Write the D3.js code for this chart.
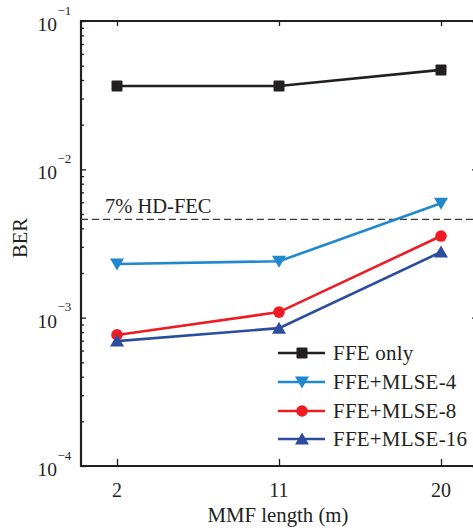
<!DOCTYPE html>
<html>
<head>
<meta charset="utf-8">
<script src="https://cdn.jsdelivr.net/npm/d3@7"></script>
<style>
  body { margin: 0; background: #fff; }
</style>
</head>
<body>
<div id="chart"></div>
<script>
var lengths = [2, 11, 20];
var ffeOnly = [0.0365, 0.0365, 0.0468];
var mlse4 = [0.00230, 0.00240, 0.00590];
var mlse8 = [0.000765, 0.00109, 0.00355];
var mlse16 = [0.000695, 0.00085, 0.00277];
var seriesNames = ["FFE only", "FFE+MLSE-4", "FFE+MLSE-8", "FFE+MLSE-16"];
var yTickExps = [-1, -2, -3, -4];
var fecLimit = 0.0046;
var fecLabel = "7% HD-FEC";

var width = 473, height = 531;
var ink = "#231f20";
var serif = "'Liberation Serif', 'Times New Roman', Times, serif";

var series = [
    {name: seriesNames[0], vals: ffeOnly, color: "#231f20", sym: "square"},
    {name: seriesNames[1], vals: mlse4, color: "#1f88cf", sym: "down"},
    {name: seriesNames[2], vals: mlse8, color: "#ed1c24", sym: "circle"},
    {name: seriesNames[3], vals: mlse16, color: "#2c4d9e", sym: "up"}
];

var svg = d3.select("#chart").append("svg")
    .attr("width", width)
    .attr("height", height)
    .style("font-family", serif);

var xScale = d3.scaleLinear().domain([0, 22]).range([81, 477]);
var yScale = d3.scaleLog().domain([1e-4, 1e-1]).range([466, 21]);

// minor ticks 2..9 in every decade
var minorTicks = [];
[-4, -3, -2].forEach(e => {
    for (var m = 2; m <= 9; m++) minorTicks.push(m * Math.pow(10, e));
})
var majorTicks = yTickExps.map(e => Math.pow(10, e));

function styleAxis(g){
    g.select(".domain").remove();
    g.selectAll("line").attr("stroke", ink).attr("stroke-width", 1.3);
    g.selectAll("text").remove();
}

// left axis (ticks point inward)
svg.append("g").attr("transform", "translate(81,0)")
    .call(d3.axisRight(yScale).tickValues(minorTicks).tickSize(3)).call(styleAxis);
svg.append("g").attr("transform", "translate(81,0)")
    .call(d3.axisRight(yScale).tickValues(majorTicks).tickSize(5)).call(styleAxis);
// right axis (cropped by the window)
svg.append("g").attr("transform", "translate(477,0)")
    .call(d3.axisLeft(yScale).tickValues(minorTicks).tickSize(3)).call(styleAxis);
svg.append("g").attr("transform", "translate(477,0)")
    .call(d3.axisLeft(yScale).tickValues(majorTicks).tickSize(5)).call(styleAxis);
// bottom and top axes
svg.append("g").attr("transform", "translate(0,466)")
    .call(d3.axisTop(xScale).tickValues(lengths).tickSize(7)).call(styleAxis);
svg.append("g").attr("transform", "translate(0,21)")
    .call(d3.axisBottom(xScale).tickValues(lengths).tickSize(5)).call(styleAxis);

// frame
svg.append("path")
    .attr("d", "M" + xScale(22) + "," + yScale(1e-1) + "H" + xScale(0) + "V" + yScale(1e-4) + "H" + xScale(22))
    .attr("fill", "none").attr("stroke", ink).attr("stroke-width", 2.2);

function txt(x, y, size, s){
    return svg.append("text").attr("x", x).attr("y", y)
        .attr("font-family", serif).attr("font-size", size).attr("fill", ink).text(s);
}

// y tick labels 10^-n
yTickExps.forEach(e => {
    var yy = yScale(Math.pow(10, e));
    txt(57, yy + 10, 19.5, "10").attr("text-anchor", "end");
    txt(57.5, yy - 6.5, 13, "\u2212" + (-e));
})

// x tick labels
lengths.forEach(l => {
    txt(xScale(l), 497, 20, l).attr("text-anchor", "middle");
})

// axis titles
txt(278, 522, 20.8, "MMF length (m)").attr("text-anchor", "middle");
txt(0, 0, 20.5, "BER").attr("transform", "translate(27,238) rotate(-90)").attr("text-anchor", "middle");

// FEC threshold
svg.append("line")
    .attr("x1", xScale(0)).attr("x2", xScale(22))
    .attr("y1", yScale(fecLimit)).attr("y2", yScale(fecLimit))
    .attr("stroke", "#3a3a3a").attr("stroke-width", 1.3).attr("stroke-dasharray", "7,4");
txt(105, yScale(fecLimit) - 6, 20.5, fecLabel);

function drawMarker(g, sym, cx, cy, color){
    if (sym == "square"){
        g.append("rect").attr("x", cx - 5.5).attr("y", cy - 5.5).attr("width", 11).attr("height", 11)
            .attr("rx", 1).attr("fill", color);
    } else if (sym == "circle"){
        g.append("circle").attr("cx", cx).attr("cy", cy).attr("r", 5.8).attr("fill", color);
    } else if (sym == "down"){
        g.append("path").attr("d", "M" + (cx - 7) + "," + (cy - 5.5) + "h14l-7,12z").attr("fill", color);
    } else {
        g.append("path").attr("d", "M" + (cx - 7) + "," + (cy + 5.5) + "h14l-7,-12z").attr("fill", color);
    }
}

var line = d3.line()
    .x((d, i) => xScale(lengths[i]))
    .y(d => yScale(d));

series.forEach(s => {
    var g = svg.append("g");
    g.append("path").datum(s.vals)
        .attr("d", line).attr("fill", "none")
        .attr("stroke", s.color).attr("stroke-width", 2.6);
    s.vals.forEach((v, i) => drawMarker(g, s.sym, xScale(lengths[i]), yScale(v), s.color));
})

// legend
var legendY = [353, 382, 411, 439];
series.forEach((s, i) => {
    var g = svg.append("g");
    g.append("line").attr("x1", 278).attr("x2", 325).attr("y1", legendY[i]).attr("y2", legendY[i])
        .attr("stroke", s.color).attr("stroke-width", 2.6);
    drawMarker(g, s.sym, 302, legendY[i], s.color);
    txt(333, legendY[i] + 7, 21, s.name).attr("letter-spacing", 0.2);
})
</script>
</body>
</html>
